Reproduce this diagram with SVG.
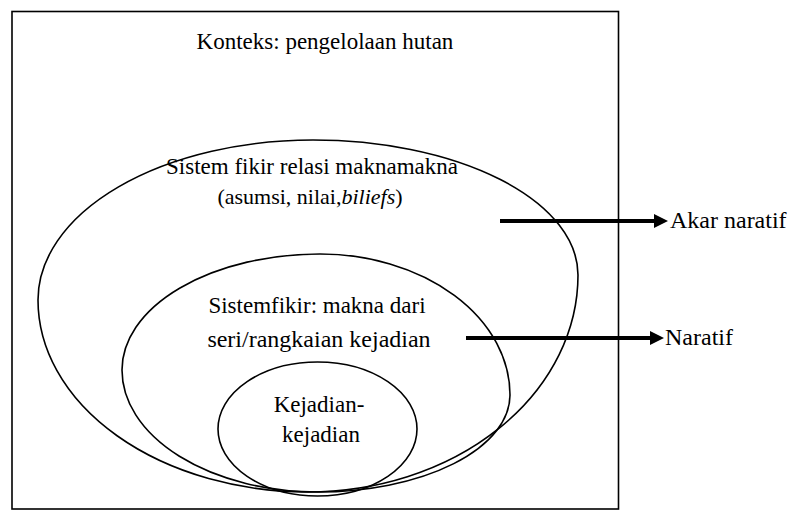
<svg xmlns="http://www.w3.org/2000/svg" width="788" height="512" viewBox="0 0 788 512">
<defs>
<style>
.sh{fill:none;stroke:#000;stroke-width:1.6}
.ar{stroke:#000;stroke-width:4;fill:none}
</style>
<marker id="ah" markerWidth="14" markerHeight="14" refX="0" refY="7" orient="auto" markerUnits="userSpaceOnUse" viewBox="0 0 14 14"><path d="M0,0 L0,14 L14,7 z" fill="#000"/></marker>
</defs>
<rect width="788" height="512" fill="#fff"/>
<g id="context">
<rect class="sh" x="12" y="11.5" width="606.5" height="497.5" stroke-width="1.5"/>
<text font-family="Liberation Serif, serif" font-size="23" text-anchor="middle" x="325" y="49">Konteks: pengelolaan hutan</text>
</g>
<g id="akar">
<path class="sh" d="M313,140 A265,135 0 0 1 578,275 A270,217 0 0 1 308,492 A270,192 0 0 1 38,300 A275,160 0 0 1 313,140 Z"/>
<text font-family="Liberation Serif, serif" font-size="23" text-anchor="middle" x="312" y="174">Sistem fikir relasi maknamakna</text>
<text font-family="Liberation Serif, serif" font-size="22" text-anchor="middle" x="310" y="204">(asumsi, nilai,<tspan font-style="italic">biliefs</tspan>)</text>
</g>
<g id="naratif">
<path class="sh" d="M320,254 A190,141 0 0 1 510,395 A192,97 0 0 1 318,492 A196,122 0 0 1 122,370 A198,116 0 0 1 320,254 Z"/>
<text font-family="Liberation Serif, serif" font-size="23" text-anchor="middle" x="317" y="313">Sistemfikir: makna dari</text>
<text font-family="Liberation Serif, serif" font-size="24" text-anchor="middle" x="319" y="347">seri/rangkaian kejadian</text>
</g>
<g id="kejadian">
<ellipse class="sh" cx="317.5" cy="429" rx="99.5" ry="67"/>
<text font-family="Liberation Serif, serif" font-size="23" text-anchor="middle" x="319" y="412">Kejadian-</text>
<text font-family="Liberation Serif, serif" font-size="23" text-anchor="middle" x="321" y="442">kejadian</text>
</g>
<g id="connectors">
<line class="ar" x1="500" y1="221" x2="654" y2="221" marker-end="url(#ah)"/>
<line class="ar" x1="466" y1="338" x2="650" y2="338" marker-end="url(#ah)"/>
</g>
<g id="labels">
<text font-family="Liberation Serif, serif" font-size="24" x="670" y="228">Akar naratif</text>
<text font-family="Liberation Serif, serif" font-size="24" x="665" y="345">Naratif</text>
</g>
</svg>
